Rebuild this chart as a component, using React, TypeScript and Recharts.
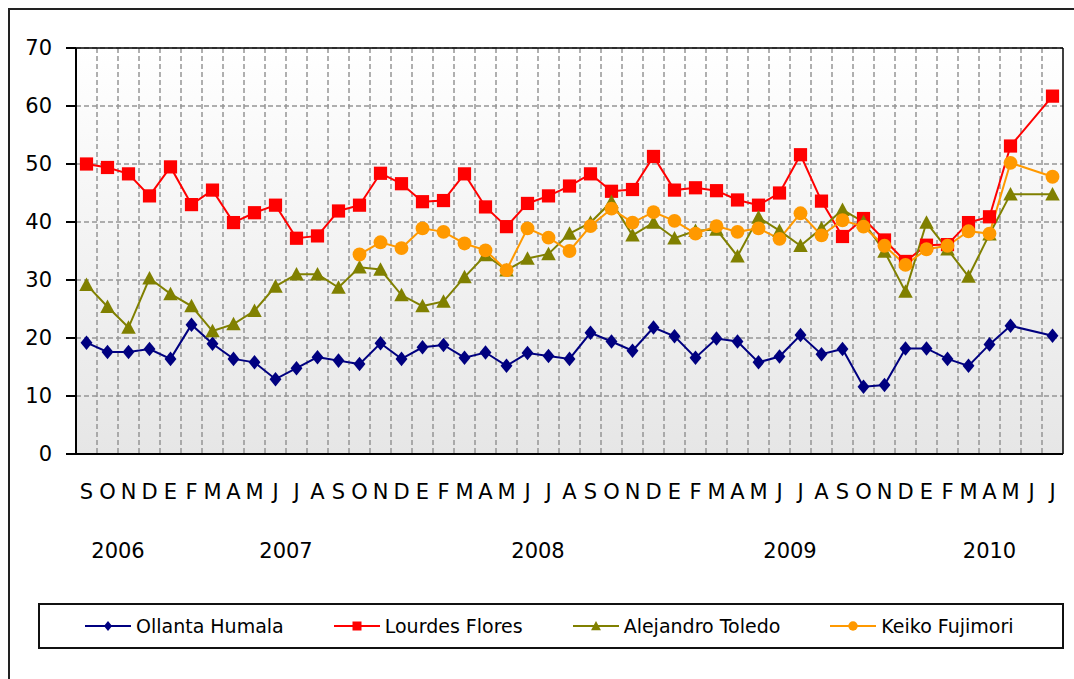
import React from "react";
import {
  LineChart,
  Line,
  XAxis,
  YAxis,
  CartesianGrid,
  ReferenceLine,
} from "recharts";

// month initials, Sep 2006 .. Jul 2010
const months = [
  "S", "O", "N", "D",
  "E", "F", "M", "A", "M", "J", "J", "A", "S", "O", "N", "D",
  "E", "F", "M", "A", "M", "J", "J", "A", "S", "O", "N", "D",
  "E", "F", "M", "A", "M", "J", "J", "A", "S", "O", "N", "D",
  "E", "F", "M", "A", "M", "J", "J",
];

const yearLabels = ["2006", "2007", "2008", "2009", "2010"];
const yearMonthCounts = [4, 12, 12, 12, 7];

const yTicks = [0, 10, 20, 30, 40, 50, 60, 70];

const humala = [
  19.2, 17.6, 17.6, 18.1, 16.4, 22.3, 19.0, 16.4, 15.8, 12.9, 14.8, 16.7,
  16.1, 15.5, 19.1, 16.4, 18.4, 18.8, 16.6, 17.5, 15.2, 17.4, 16.9, 16.4,
  20.9, 19.4, 17.8, 21.8, 20.3, 16.6, 19.9, 19.4, 15.8, 16.8, 20.5, 17.2,
  18.1, 11.6, 11.9, 18.2, 18.2, 16.4, 15.2, 18.9, 22.1, null, 20.4,
];

const flores = [
  50.0, 49.4, 48.3, 44.5, 49.5, 43.0, 45.5, 39.9, 41.6, 42.9, 37.2, 37.6,
  41.9, 42.9, 48.4, 46.6, 43.5, 43.7, 48.3, 42.6, 39.2, 43.2, 44.5, 46.2,
  48.3, 45.3, 45.6, 51.3, 45.5, 45.9, 45.4, 43.8, 42.9, 45.0, 51.6, 43.6,
  37.5, 40.6, 36.9, 33.2, 36.0, 36.1, 39.9, 40.9, 53.1, null, 61.7,
];

const toledo = [
  29.2, 25.4, 21.8, 30.3, 27.6, 25.5, 21.2, 22.4, 24.7, 28.9, 31.0, 31.0,
  28.7, 32.2, 31.8, 27.4, 25.5, 26.3, 30.5, 34.3, 31.7, 33.7, 34.5, 38.0,
  39.9, 43.5, 37.7, 39.9, 37.2, 38.5, 38.7, 34.1, 40.8, 38.5, 35.9, 38.9,
  42.1, 40.0, 34.9, 28.0, 39.9, 35.3, 30.6, 37.9, 44.8, null, 44.8,
];

const keiko = [
  null, null, null, null, null, null, null, null, null, null, null, null,
  null, 34.4, 36.5, 35.5, 38.9, 38.3, 36.3, 35.1, 31.7, 38.9, 37.3, 35.0,
  39.3, 42.3, 39.9, 41.7, 40.2, 38.0, 39.3, 38.3, 38.9, 37.1, 41.5, 37.7,
  40.3, 39.2, 35.9, 32.6, 35.3, 35.9, 38.4, 38.0, 50.2, null, 47.8,
];

const series = [
  { key: "humala", name: "Ollanta Humala", color: "#000080", shape: "diamond" },
  { key: "flores", name: "Lourdes Flores", color: "#ff0000", shape: "square" },
  { key: "toledo", name: "Alejandro Toledo", color: "#808000", shape: "triangle" },
  { key: "keiko", name: "Keiko Fujimori", color: "#ff9900", shape: "circle" },
];

const data = months.map((m, i) => ({
  i,
  month: m,
  humala: humala[i],
  flores: flores[i],
  toledo: toledo[i],
  keiko: keiko[i],
}));

const monthTicks = months.map((_, i) => i);
const gridLines = months.slice(1).map((_, i) => i + 0.5);
const yearCenters = yearMonthCounts.map((n, k) => {
  const start = yearMonthCounts.slice(0, k).reduce((a, b) => a + b, 0);
  return start + (n - 1) / 2;
});

const domainX: [number, number] = [-0.5, months.length - 0.5];
const FONT = "'DejaVu Sans', Verdana, sans-serif";

function shapeEl(shape: string, cx: number, cy: number, color: string, s: number, key?: any) {
  if (shape === "diamond") {
    return (
      <polygon key={key} fill={color}
        points={`${cx},${cy - s * 1.1} ${cx + s * 0.9},${cy} ${cx},${cy + s * 1.1} ${cx - s * 0.9},${cy}`} />
    );
  }
  if (shape === "square") {
    return <rect key={key} x={cx - s} y={cy - s} width={s * 2} height={s * 2} fill={color} />;
  }
  if (shape === "triangle") {
    return (
      <polygon key={key} fill={color}
        points={`${cx},${cy - s * 1.1} ${cx + s * 1.1},${cy + s * 0.95} ${cx - s * 1.1},${cy + s * 0.95}`} />
    );
  }
  return <circle key={key} cx={cx} cy={cy} r={s * 1.05} fill={color} />;
}

function makeDot(shape: string, color: string) {
  return (props: any) => {
    const { cx, cy, index, value } = props;
    if (cx == null || cy == null || value == null) return <g key={`d${index}`} />;
    return shapeEl(shape, cx, cy, color, 6.6, `d${index}`);
  };
}

function LegendBox() {
  return (
    <div style={{
      position: "absolute",
      left: 38,
      top: 603,
      width: 1026,
      height: 46,
      border: "2px solid #111",
      boxSizing: "border-box",
      display: "flex",
      alignItems: "center",
      paddingLeft: 45,
      gap: 50,
      fontFamily: FONT,
      fontSize: 19,
      color: "#000",
    }}>
      {series.map((s) => (
        <div key={s.key} style={{ display: "flex", alignItems: "center", gap: 5 }}>
          <svg width={46} height={20}>
            <line x1={0} y1={10} x2={46} y2={10} stroke={s.color} strokeWidth={2} />
            {shapeEl(s.shape, 23, 10, s.color, 4.5)}
          </svg>
          <span>{s.name}</span>
        </div>
      ))}
    </div>
  );
}

export default function App() {
  return (
    <div style={{ position: "relative", width: 1074, height: 679, overflow: "hidden", background: "#fff" }}>
      <style>{"html,body{margin:0;padding:0;overflow:hidden;background:#fff}"}</style>
      <div style={{
        position: "absolute",
        left: 8,
        top: 8,
        width: 1200,
        height: 800,
        borderTop: "2px solid #222",
        borderLeft: "2px solid #222",
      }} />
      <div style={{ position: "absolute", left: 0, top: 0 }}>
        <LineChart
          width={1074}
          height={679}
          data={data}
          margin={{ top: 48, right: 11, bottom: 105, left: 0 }}
        >
          <defs>
            <linearGradient id="plotBg" x1="0" y1="0" x2="0" y2="1">
              <stop offset="0%" stopColor="#ffffff" />
              <stop offset="100%" stopColor="#e6e6e6" />
            </linearGradient>
          </defs>
          <CartesianGrid
            fill="url(#plotBg)"
            stroke="#959595"
            strokeWidth={1.5}
            strokeDasharray="5 3"
            verticalValues={gridLines}
          />
          <XAxis
            dataKey="i"
            type="number"
            domain={domainX}
            allowDataOverflow
            ticks={monthTicks}
            interval={0}
            tickFormatter={(v: number) => months[v] ?? ""}
            tickLine={false}
            tickSize={0}
            tickMargin={30}
            height={60}
            axisLine={{ stroke: "#000", strokeWidth: 2 }}
            tick={{ fill: "#000", fontSize: 21, fontFamily: FONT }}
          />
          <XAxis
            xAxisId="year"
            dataKey="i"
            type="number"
            domain={domainX}
            allowDataOverflow
            ticks={yearCenters}
            interval={0}
            tickFormatter={(v: number) => yearLabels[yearCenters.indexOf(v)] ?? ""}
            tickLine={false}
            tickSize={0}
            tickMargin={29}
            height={60}
            axisLine={false}
            tick={{ fill: "#000", fontSize: 21, fontFamily: FONT }}
          />
          <YAxis
            type="number"
            domain={[0, 70]}
            ticks={yTicks}
            interval={0}
            width={76}
            tickSize={10}
            tickMargin={14}
            tickLine={{ stroke: "#000", strokeWidth: 2 }}
            axisLine={{ stroke: "#000", strokeWidth: 2 }}
            tick={{ fill: "#000", fontSize: 21, fontFamily: FONT }}
          />
          <ReferenceLine y={70} stroke="#000" strokeWidth={1.5} />
          <ReferenceLine x={domainX[1]} stroke="#000" strokeWidth={1.5} />
          {series.map((s) => (
            <Line
              key={s.key}
              type="linear"
              dataKey={s.key}
              name={s.name}
              stroke={s.color}
              strokeWidth={2}
              connectNulls
              dot={makeDot(s.shape, s.color)}
              activeDot={false}
              isAnimationActive={false}
            />
          ))}
        </LineChart>
      </div>
      <LegendBox />
    </div>
  );
}
